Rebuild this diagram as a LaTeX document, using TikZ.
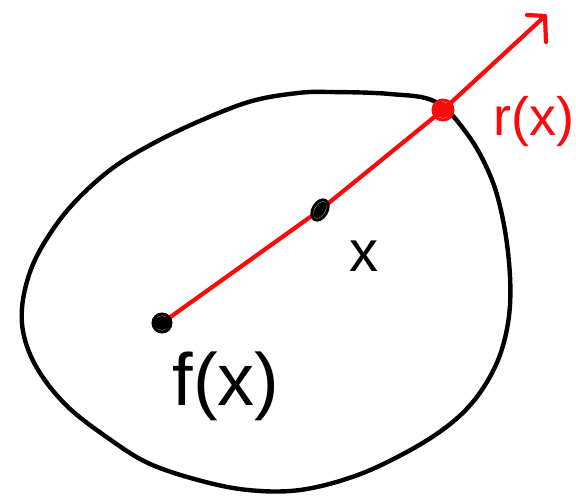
\documentclass[tikz,border=0pt]{standalone}
\usepackage{fontspec}
\setmainfont{Liberation Sans}
\definecolor{penred}{RGB}{250,10,10}
\tikzset{
  outline/.style={line width=4.4pt, line join=round, line cap=round},
  ray/.style={penred, line width=4.2pt, line join=round, line cap=round},
  dotmark/.style={line width=3pt},
  lbl/.style={inner sep=0pt, font=\fontsize{#1}{#1}\selectfont},
}
\begin{document}
\begin{tikzpicture}[x=1pt,y=-1pt]
\useasboundingbox[fill=white] (0,0) rectangle (576,496);
% blob
\draw[outline] plot[smooth cycle, tension=0.6] coordinates {
 (330,92) (390,94) (436,102) (468,135) (490,175) (502,215) (509,262) (510,305)
 (504,342) (492,373) (472,403) (445,428) (405,453) (355,476) (300,490) (248,490)
 (198,480) (148,463) (108,438) (68,407) (40,373) (25,340) (22,308) (30,272)
 (46,240) (72,205) (110,170) (152,144) (202,120) (252,101) (298,93)};
% points
\coordinate (fx) at (162,323);
\coordinate (xp) at (320,210);
\coordinate (rx) at (443,110);
\coordinate (tip) at (545,16);
\coordinate (hl) at (527,15);
\coordinate (hd) at (546,42);
% ray
\draw[ray] (fx) -- (xp) -- (rx) -- (tip);
\draw[ray] (hl) -- (tip) -- (hd);
% dots
\fill (fx) ellipse[x radius=8pt, y radius=7pt];
\draw[dotmark] (fx) ellipse[x radius=9pt, y radius=9pt];
\fill[rotate around={60:(xp)}] (xp) ellipse[x radius=9pt, y radius=5pt];
\draw[dotmark, rotate around={60:(xp)}] (xp) ellipse[x radius=11pt, y radius=7pt];
\fill[penred] (rx) ellipse[x radius=9pt, y radius=8pt];
\draw[penred, dotmark] (rx) ellipse[x radius=10pt, y radius=10pt];
% labels
\node[lbl=58] (xl) at (364,256) {x};
\node[lbl=74] (fl) at (226,386) {f(x)};
\node[lbl=54, anchor=east, text=penred] (rl) at (575,122) {r(x)};
\end{tikzpicture}
\end{document}
